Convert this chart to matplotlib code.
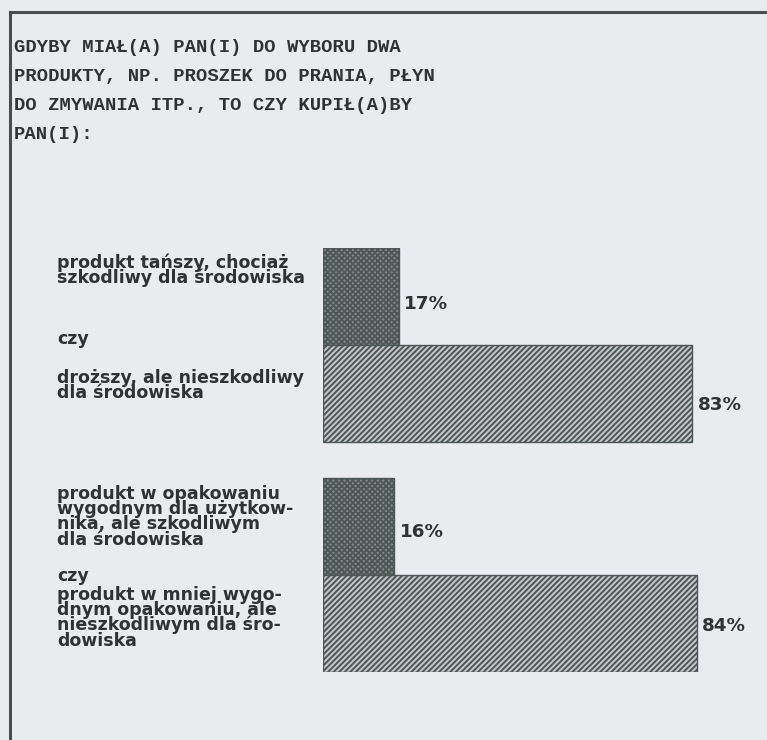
import matplotlib.pyplot as plt
from matplotlib.lines import Line2D

plt.rcParams['hatch.linewidth'] = 1.4

# Data
title = ("GDYBY MIAŁ(A) PAN(I) DO WYBORU DWA\n"
         "PRODUKTY, NP. PROSZEK DO PRANIA, PŁYN\n"
         "DO ZMYWANIA ITP., TO CZY KUPIŁ(A)BY\n"
         "PAN(I):")
bar_values = [17, 83, 16, 84]
bar_positions = [0, 1, 2.37, 3.37]
value_labels = ['17%', '83%', '16%', '84%']
option_labels = [
    "produkt tańszy, chociaż\nszkodliwy dla środowiska",
    "droższy, ale nieszkodliwy\ndla środowiska",
    "produkt w opakowaniu\nwygodnym dla użytkow-\nnika, ale szkodliwym\ndla środowiska",
    "produkt w mniej wygo-\ndnym opakowaniu, ale\nnieszkodliwym dla śro-\ndowiska",
]

# layout offsets (data units, relative to bar centres)
label_shift = [-0.27, -0.08, -0.1, -0.06]
value_shift = [0.08, 0.12, 0.06, 0.03]
czy_y = [0.44, 2.88]

bg = '#e9ebef'
ink = '#2f3333'
W, H = 767, 740

fig = plt.figure(figsize=(W / 100, H / 100), dpi=100, facecolor=bg)

# frame of the box (top and left edges)
fig.add_artist(Line2D([10 / W, 10 / W], [0, 1 - 12 / H], color='#4a4e50', lw=2.2))
fig.add_artist(Line2D([10 / W, 1], [1 - 12 / H, 1 - 12 / H], color='#4a4e50', lw=2.2))

fig.text(14 / W, 1 - 39 / H, title, family='Liberation Mono', weight='bold',
         fontsize=13.6, color=ink, va='top', ha='left', linespacing=1.93)

# bar axes
x0, y_top, y_bot = 323, 248, 672
px_per_pct = 4.45
ax_w = W - x0
ax = fig.add_axes([x0 / W, (H - y_bot) / H, ax_w / W, (y_bot - y_top) / H])
ax.set_facecolor('none')
ax.set_xlim(0, ax_w / px_per_pct)
ax.set_ylim(3.87, -0.5)
ax.axis('off')

styles = [
    dict(facecolor='#848c8c', hatch='xxxxxx'),
    dict(facecolor='#c4c8c8', hatch='//////'),
]
font = dict(family='DejaVu Sans', weight='bold', color=ink)
for i, (pos, val, lab) in enumerate(zip(bar_positions, bar_values, value_labels)):
    st = styles[i % 2]
    ax.barh(pos, val, height=1.0, color=st['facecolor'], hatch=st['hatch'],
            edgecolor='#4e5656', linewidth=1.0)
    ax.annotate(lab, (val, pos + value_shift[i]), xytext=(4, 0),
                textcoords='offset points', va='center', ha='left',
                fontsize=13.2, **font)

# option labels on the left
x_lab = -266 / px_per_pct
for pos, sh, txt in zip(bar_positions, label_shift, option_labels):
    ax.text(x_lab, pos + sh, txt, va='center', ha='left', fontsize=12.5,
            linespacing=0.8, clip_on=False, **font)
for y in czy_y:
    ax.text(x_lab, y, 'czy', va='center', ha='left', fontsize=12.5,
            clip_on=False, **font)

fig.savefig('out.png', dpi=100, facecolor=bg)
